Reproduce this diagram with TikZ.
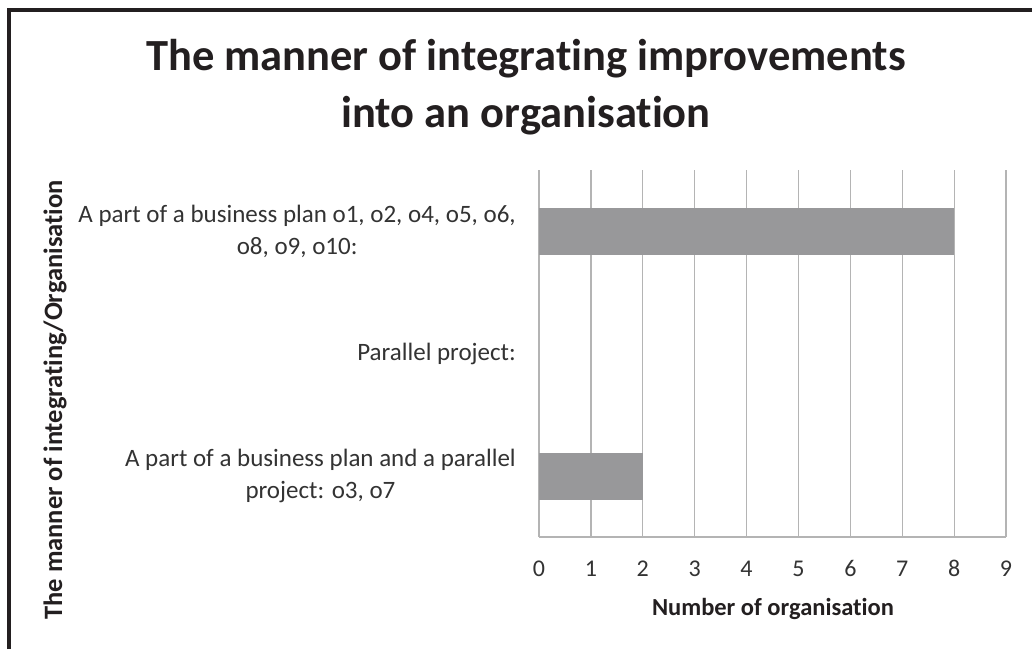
\documentclass[tikz,border=0pt]{standalone}
\usepackage{fontspec}
\setmainfont{Carlito}[Ligatures=NoCommon]
\definecolor{framec}{HTML}{231F20}
\definecolor{gridc}{HTML}{B4B4B4}
\definecolor{barc}{HTML}{98989A}
\definecolor{txtc}{HTML}{333333}
\begin{document}
\begin{tikzpicture}[x=1pt,y=-1pt,
  gridline/.style={draw=gridc,line width=1.2pt},
  barbox/.style={fill=barc,draw=none},
  catlabel/.style={anchor=east,align=center,text=txtc,font=\fontsize{25}{32}\selectfont,inner sep=0pt},
  ticklabel/.style={anchor=base,text=txtc,font=\fontsize{24}{28}\selectfont,inner sep=0pt},
  axtitle/.style={text=framec,font=\bfseries\fontsize{24.5}{29}\selectfont,inner sep=0pt},
  ttl/.style={text=framec,font=\bfseries\fontsize{44.5}{53}\selectfont,inner sep=0pt,anchor=base}]
\useasboundingbox (0,0) rectangle (1032,649);
\fill[white] (0,0) rectangle (1032,649);
% frame (top and left)
\draw[framec,line width=4pt] (8.7,649) -- (8.7,10.3) -- (1032,10.3);
% title
\node[ttl] (t1) at (526,70) {The manner of integrating improvements};
\node[ttl] (t2) at (526,127) {into an organisation};
% gridlines
\foreach \i in {0,...,9} {
  \draw[gridline] ({539+51.89*\i},170) -- ({539+51.89*\i},537);
  \node[ticklabel] (tick\i) at ({539+51.89*\i},576) {\i};
}
\draw[gridline] (539,537) -- (1006,537);
% bars
\node[barbox,minimum width=415.1pt,minimum height=47pt,inner sep=0pt,anchor=west] (bar1) at (539,231.3) {};
\node[barbox,minimum width=103.8pt,minimum height=47pt,inner sep=0pt,anchor=west] (bar3) at (539,476) {};
% category labels
\node[catlabel] (c1) at (516,231.5) {A part of a business plan o1, o2, o4, o5, o6,\\o8, o9, o10:};
\node[catlabel] (c2) at (516,353.5) {Parallel project:};
\node[catlabel] (c3) at (516,476) {A part of a business plan and a parallel\\project: o3, o7};
% axis titles
\node[axtitle,anchor=base] (xt) at (773,615) {Number of organisation};
\node[axtitle,rotate=90,font=\bfseries\fontsize{26.5}{30}\selectfont] (yt) at (55,400) {The manner of integrating/Organisation};
\end{tikzpicture}
\end{document}
